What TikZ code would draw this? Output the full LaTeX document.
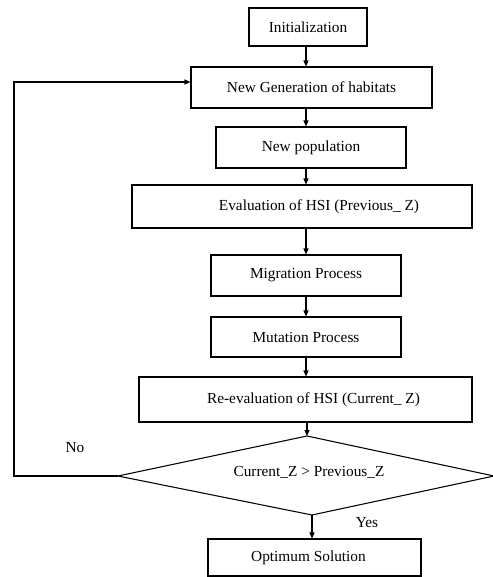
\documentclass[tikz,border=0pt]{standalone}
\usepackage{fontspec}
\setmainfont{Liberation Serif}
\usetikzlibrary{arrows.meta}
\begin{document}
\begin{tikzpicture}[x=0.75pt,y=-0.75pt,
  box/.style={draw, line width=0.8pt, inner sep=0pt, font=\fontsize{11.5}{13}\selectfont},
  arr/.style={-{Triangle[length=4.5pt,width=3.8pt]}, line width=0.8pt},
  lbl/.style={font=\fontsize{11.5}{13}\selectfont, inner sep=0pt}]
\useasboundingbox (0,0) rectangle (492,577);
\coordinate (spine) at (306,0);
\node[box, minimum width={118*0.75pt}, minimum height={38*0.75pt}] (init) at (308,27) {Initialization};
\node[box, minimum width={241*0.75pt}, minimum height={41*0.75pt}] (newgen) at (311.5,87.5) {New Generation of habitats};
\node[box, minimum width={190*0.75pt}, minimum height={41*0.75pt}] (newpop) at (311,147.5) {New population};
\node[box, minimum width={340*0.75pt}, minimum height={43*0.75pt}, label={[lbl, name=evaltext, xshift={17*0.75pt}]center:Evaluation of HSI (Previous\_ Z)}] (eval) at (302,206.5) {};
\node[box, minimum width={190*0.75pt}, minimum height={41*0.75pt}] (migr) at (306,275.5) {Migration Process};
\node[box, minimum width={190*0.75pt}, minimum height={40*0.75pt}] (mut) at (306,337) {Mutation Process};
\node[box, minimum width={333*0.75pt}, minimum height={45*0.75pt}, label={[lbl, name=reevaltext, xshift={8*0.75pt}]center:Re-evaluation of HSI (Current\_ Z)}] (reeval) at (305.5,399.5) {};
\coordinate (dt) at (307,436);
\coordinate (dl) at (118,476);
\coordinate (dr) at (494,476);
\coordinate (db) at (312,515);
\draw[line width=0.8pt] (dt) -- (dr) -- (db) -- (dl) -- cycle;
\node[lbl] (cond) at (309,472) {Current\_Z > Previous\_Z};
\node[box, minimum width={213*0.75pt}, minimum height={37*0.75pt}, label={[lbl, name=opttext, xshift={-6*0.75pt}]center:Optimum Solution}] (opt) at (314.5,557.5) {};
\node[lbl] (no) at (75,448) {No};
\node[lbl] (yes) at (367,523) {Yes};
\coordinate (c1) at (14,476);
\coordinate (c2) at (14,82);
\draw[arr] (init.south -| spine) -- (newgen.north -| spine);
\draw[arr] (newgen.south -| spine) -- (newpop.north -| spine);
\draw[arr] (newpop.south -| spine) -- (eval.north -| spine);
\draw[arr] (eval.south -| spine) -- (migr.north -| spine);
\draw[arr] (migr.south -| spine) -- (mut.north -| spine);
\draw[arr] (mut.south -| spine) -- (reeval.north -| spine);
\draw[arr] (reeval.south -| dt) -- (dt);
\draw[arr] (db) -- (db |- opt.north);
\draw[arr] (dl) -- (c1) -- (c2) -- (c2 -| newgen.west);
\end{tikzpicture}
\end{document}
